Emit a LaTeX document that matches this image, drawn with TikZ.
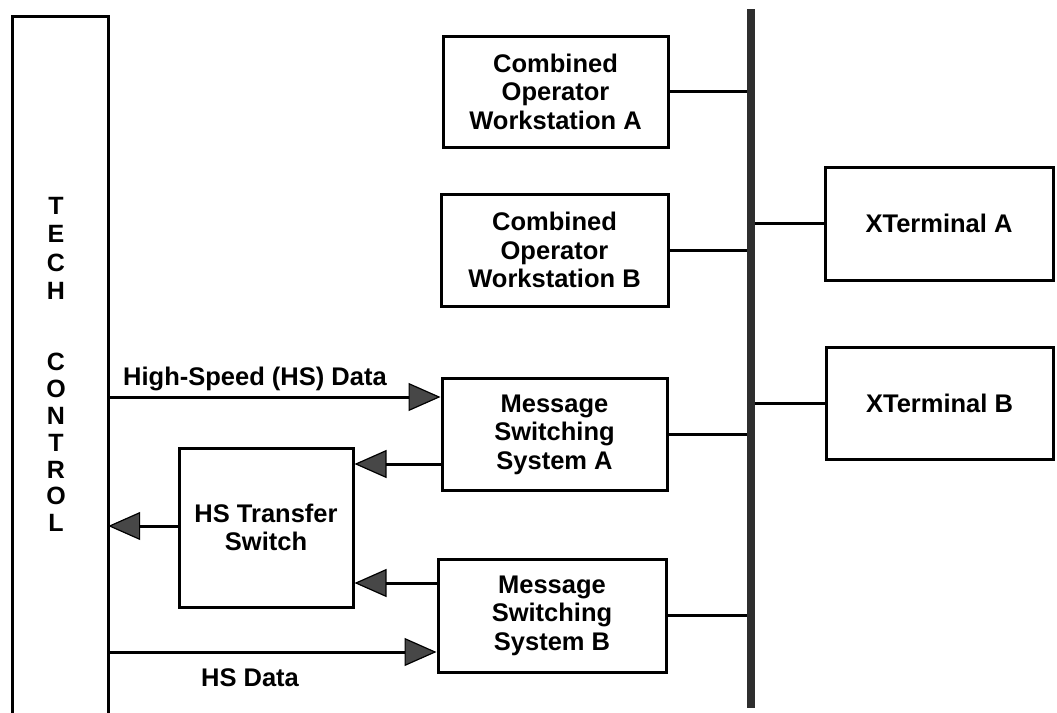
\documentclass[tikz,border=0pt]{standalone}
\usepackage{fontspec}
\setmainfont{Liberation Sans}
\usetikzlibrary{arrows.meta}
\begin{document}
\begin{tikzpicture}[x=1pt,y=-1pt,
  txt/.style={font=\fontsize{25.5}{28.5}\selectfont\bfseries},
  box/.style={txt, draw, line width=3pt, align=center, inner sep=0pt},
  ln/.style={line width=3pt},
  arr/.style={line width=3pt, -{Triangle[length=32pt,width=28pt,fill=black!72,line width=1.2pt]}}]
\useasboundingbox (0,0) rectangle (1057,712);
% bus
\node[fill=black!82, inner sep=0pt, minimum width=8.5pt, minimum height=699pt] (bus) at (751,358.5) {};
% tech control (open at the bottom)
\node[inner sep=0pt, minimum width=95pt, minimum height=699pt] (tc) at (60.5,366.5) {};
\draw[ln] (tc.south west) -- (tc.north west) -- (tc.north east) -- (tc.south east);
\node[txt, align=center, inner sep=0pt, font=\fontsize{25}{28.3}\selectfont\bfseries] (tech) at (56,248.5) {T\\E\\C\\H};
\node[txt, align=center, inner sep=0pt, font=\fontsize{25}{26.8}\selectfont\bfseries] (control) at (56,442.5) {C\\O\\N\\T\\R\\O\\L};
% boxes
\node[box, minimum width=225pt, minimum height=111pt] (cowA) at (555.5,91.5) {Combined\\Operator\\Workstation A};
\node[box, minimum width=227pt, minimum height=112pt] (cowB) at (554.5,250) {Combined\\Operator\\Workstation B};
\node[box, minimum width=225pt, minimum height=112pt] (msA) at (554.5,434.5) {Message\\Switching\\System A};
\node[box, minimum width=228pt, minimum height=113pt] (msB) at (552,615.5) {Message\\Switching\\System B};
\node[box, minimum width=174pt, minimum height=159pt] (hs) at (266,527.5) {HS Transfer\\Switch};
\node[box, minimum width=228pt, minimum height=113pt] (xA) at (939,223.5) {XTerminal A};
\node[box, minimum width=227pt, minimum height=112pt] (xB) at (939.5,403) {XTerminal B};
% bus links
\draw[ln] (cowA.east) -- (cowA.east -| bus.west);
\draw[ln] (cowB.east) -- (cowB.east -| bus.west);
\draw[ln] (msA.east) -- (msA.east -| bus.west);
\draw[ln] (msB.east) -- (msB.east -| bus.west);
\draw[ln] (xA.west -| bus.east) -- (xA.west);
\draw[ln] (xB.west -| bus.east) -- (xB.west);
% data rows
\coordinate (r1) at (0,397);
\coordinate (r2) at (0,464);
\coordinate (r3) at (0,526);
\coordinate (r4) at (0,583);
\coordinate (r5) at (0,652);
\draw[arr] (r1 -| tc.east) -- (r1 -| msA.west);
\draw[arr] (r2 -| msA.west) -- (r2 -| hs.east);
\draw[arr] (r3 -| hs.west) -- (r3 -| tc.east);
\draw[arr] (r4 -| msB.west) -- (r4 -| hs.east);
\draw[arr] (r5 -| tc.east) -- (r5 -| msB.west);
% labels
\node[txt, anchor=base, inner sep=0pt] (lbl1) at (255,385) {High-Speed (HS) Data};
\node[txt, anchor=base, inner sep=0pt] (lbl2) at (250,686) {HS Data};
\end{tikzpicture}
\end{document}
